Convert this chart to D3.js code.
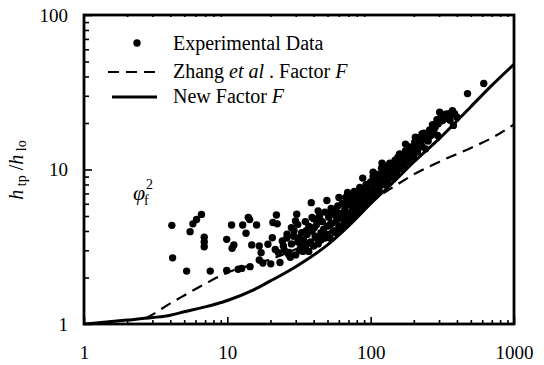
<!DOCTYPE html>
<html>
<head>
<meta charset="utf-8">
<script src="https://cdn.jsdelivr.net/npm/d3@7"></script>
<style>
  body { margin: 0; background: #fff; }
  svg { display: block; }
  svg text { font-family: "Liberation Serif", "DejaVu Serif", serif !important; fill: #000; }
</style>
</head>
<body>
<svg id="chart" width="544" height="365"></svg>
<script>
// Axis ticks
const xTickLabels = [1, 10, 100, 1000];
const yTickLabels = [1, 10, 100];
const xMinorTicks = [2, 3, 4, 5, 6, 7, 8, 9, 20, 30, 40, 50, 60, 70, 80, 90, 200, 300, 400, 500, 600, 700, 800, 900];
const yMinorTicks = [2, 3, 4, 5, 6, 7, 8, 9, 20, 30, 40, 50, 60, 70, 80, 90];

// New correlation for the enhancement factor F
const newFactorX = [1, 2, 3, 4, 5, 7, 10, 15, 20, 30, 50, 70, 100, 150, 200, 300, 500, 700, 1000];
const newFactorY = [1.0, 1.06, 1.1, 1.14, 1.2, 1.29, 1.42, 1.65, 1.9, 2.35, 3.25, 4.3, 6.0, 8.6, 11.2, 15.8, 25.5, 35, 48];

// Zhang et al. factor F
const zhangX = [2.7, 3, 4, 5, 7, 10, 15, 20, 30, 50, 70, 100, 150, 200, 300, 500, 700, 1000];
const zhangY = [1.09, 1.15, 1.36, 1.53, 1.82, 2.15, 2.42, 2.62, 3.05, 3.9, 4.8, 6.2, 7.9, 9.3, 11.2, 13.8, 16.0, 19.6];

// Measured two-phase multipliers
const experimental = [
  [4.1, 4.35], [4.15, 2.68], [5.2, 2.2], [5.5, 3.96], [5.75, 4.45], [6.1, 4.75], [6.6, 5.12],
  [6.9, 3.64], [6.9, 3.4], [6.9, 3.16], [7.6, 2.2], [9.9, 3.53], [9.9, 2.22], [10.7, 4.37],
  [10.8, 3.09], [11.1, 3.25], [11.9, 2.26], [12.6, 2.29], [12.8, 4.37], [14.0, 4.9], [14.3, 4.74],
  [13.5, 3.87], [14.4, 2.35], [14.8, 3.25], [16.0, 4.37], [16.7, 2.6], [16.7, 3.2], [17.2, 2.89],
  [17.7, 2.48], [19.2, 3.28], [20.1, 2.45], [20.6, 3.62], [20.8, 4.54], [22.0, 5.08], [22.3, 4.45],
  [22.7, 2.89], [21.6, 3.04], [23.3, 2.5], [24.2, 3.45], [24.6, 3.2], [26.1, 3.81], [26.8, 2.82],
  [27.5, 2.7], [29.2, 4.0], [29.9, 4.65], [30.5, 5.14], [31.7, 3.62], [32.6, 3.2], [33.6, 2.95],
  [35.4, 4.0], [36.3, 3.31], [38.5, 6.1], [39.0, 4.89], [40.5, 4.21], [41.9, 3.62], [43.0, 5.4],
  [44.2, 4.65], [46.9, 3.81], [49.5, 6.3], [50.9, 5.14], [52.4, 4.42], [55.3, 4.0], [56.9, 5.53],
  [60.1, 6.6], [61.8, 4.89], [65.4, 5.97], [67.4, 5.14], [69.1, 7.11], [71.2, 6.27], [75.2, 5.68],
  [79.8, 6.59], [84, 7.65], [88, 8.8], [88.9, 6.59], [94, 7.85], [99.5, 6.93], [104, 9.59],
  [108, 8.26], [114, 7.28], [120, 11.0], [124, 8.9], [130, 8.26], [139, 9.82], [143, 9.12],
  [155, 10.3], [159, 12.6], [169, 11.4], [172, 10.3], [175, 14.6], [193, 12], [205, 16.2],
  [211, 13.9], [222, 15.4], [228, 17], [242, 13.6], [248, 15.4], [263, 16.6], [278, 18.8],
  [293, 16.6], [311, 22.4], [319, 20.8], [338, 21.8], [358, 20.8], [378, 19.3], [400, 21.8],
  [474, 31], [615, 36],
  [25, 3.0], [26, 3.6], [27, 2.9], [28, 3.3], [28, 4.2], [29, 3.7], [30, 2.8], [31, 3.4], [31, 4.4],
  [32, 3.0], [33, 3.9], [34, 3.5], [35, 4.6], [35, 3.1], [36, 3.8], [37, 4.3], [37, 2.95],
  [38, 3.4], [39, 4.0], [40, 3.2], [40, 4.8], [41, 3.7], [42, 4.4], [43, 3.3], [44, 5.0], [45, 3.9],
  [45, 3.5], [46, 4.6], [47, 4.1], [48, 3.6], [48, 5.3], [50, 4.3], [50, 3.8], [51, 4.9], [52, 3.6],
  [53, 5.6], [54, 4.5], [55, 4.0], [56, 5.1], [57, 3.9], [58, 4.7], [59, 5.8], [60, 4.3], [61, 5.2],
  [62, 4.1], [63, 6.0], [64, 4.8], [65, 4.4], [66, 5.5], [67, 6.6], [68, 4.7], [69, 5.1], [70, 5.9],
  [71, 4.6], [72, 6.8], [73, 5.3], [74, 4.9], [75, 6.2], [76, 5.6], [77, 7.2], [78, 5.1], [79, 6.0],
  [80, 5.4], [82, 6.6], [83, 5.8], [84, 7.0], [85, 5.5], [86, 6.3], [88, 7.5], [89, 6.0], [90, 5.8],
  [92, 6.9], [93, 8.0], [94, 6.4], [95, 6.1], [97, 7.4], [98, 6.6], [100, 8.3], [101, 6.6],
  [102, 7.1], [104, 9.0], [105, 7.6], [106, 6.9], [108, 8.0], [110, 7.3], [111, 9.3], [112, 8.5],
  [114, 7.6], [116, 8.9], [117, 7.9], [119, 10.2], [120, 8.3], [122, 9.6], [124, 8.0], [126, 8.8],
  [128, 10.5], [130, 9.1], [132, 8.5], [134, 9.8], [136, 11.0], [138, 9.3], [140, 8.9], [143, 10.6],
  [145, 9.6], [148, 11.5], [150, 10.0], [152, 9.4], [155, 12.0], [157, 10.6], [160, 11.1],
  [163, 10.1], [166, 12.5], [168, 11.6], [171, 10.7], [175, 13.2], [178, 11.9], [181, 12.6],
  [185, 11.3], [188, 14.0], [192, 12.8], [195, 13.5], [200, 12.3], [203, 15.0], [207, 13.9],
  [212, 13.0], [216, 16.0], [220, 14.5], [225, 15.3], [230, 14.0], [235, 17.2], [240, 15.6],
  [246, 16.4], [252, 15.3], [258, 18.0], [264, 17.0], [270, 19.5], [276, 17.8], [283, 18.9],
  [290, 21.0], [296, 19.8], [303, 23.5], [310, 20.6], [318, 22.0], [325, 21.3], [333, 22.8],
  [342, 21.6], [350, 23.0], [360, 22.3], [372, 24.0], [385, 23.0]
];

const svg = d3.select("#chart");
const margin = { left: 84, right: 30, top: 15, bottom: 41 };
const W = 544, H = 365;
const x = d3.scaleLog().domain([1, 1000]).range([margin.left, W - margin.right]);
const y = d3.scaleLog().domain([1, 100]).range([H - margin.bottom, margin.top]);

const fmt = d => String(d);

// Bottom axis: labelled major ticks and inward minor ticks
const gx = svg.append("g").attr("transform", `translate(0,${y(1)})`);
gx.call(d3.axisBottom(x).tickValues(xTickLabels).tickFormat(fmt).tickSizeInner(-7).tickSizeOuter(0).tickPadding(22));
gx.append("g").call(d3.axisBottom(x).tickValues(xMinorTicks).tickFormat("").tickSizeInner(-4).tickSizeOuter(0));

// Left axis
const gy = svg.append("g").attr("transform", `translate(${x(1)},0)`);
gy.call(d3.axisLeft(y).tickValues(yTickLabels).tickFormat(fmt).tickSizeInner(-8).tickSizeOuter(0).tickPadding(16));
gy.append("g").call(d3.axisLeft(y).tickValues(yMinorTicks).tickFormat("").tickSizeInner(-5).tickSizeOuter(0));

// Short mirrored ticks along the top edge
svg.append("g").attr("transform", `translate(0,${y(100)})`)
  .call(d3.axisTop(x).tickValues(xMinorTicks).tickFormat("").tickSizeInner(-2).tickSizeOuter(0));

svg.selectAll(".domain").remove();
svg.selectAll("g").attr("font-family", null);
svg.selectAll(".tick line").attr("stroke", "#000").attr("stroke-width", 1.6);
svg.selectAll(".tick text").style("font-size", "19px").attr("fill", "#000");

// Plot frame
svg.append("rect")
  .attr("x", x(1)).attr("y", y(100))
  .attr("width", x(1000) - x(1)).attr("height", y(1) - y(100))
  .attr("fill", "none").attr("stroke", "#000").attr("stroke-width", 2.8);

svg.append("clipPath").attr("id", "plotClip").append("rect")
  .attr("x", x(1)).attr("y", y(100)).attr("width", x(1000) - x(1)).attr("height", y(1) - y(100));

const line = d3.line().x(d => x(d[0])).y(d => y(d[1])).curve(d3.curveMonotoneX);

const plot = svg.append("g").attr("clip-path", "url(#plotClip)");

// Experimental points
plot.selectAll("circle.exp").data(experimental).enter().append("circle")
  .attr("class", "exp")
  .attr("cx", d => x(d[0])).attr("cy", d => y(d[1])).attr("r", 3.7).attr("fill", "#000");

// Zhang et al. (dashed)
plot.append("path")
  .datum(zhangX.map((v, i) => [v, zhangY[i]]))
  .attr("d", line).attr("fill", "none").attr("stroke", "#000")
  .attr("stroke-width", 2.2).attr("stroke-dasharray", "11,7");

// New factor (solid)
plot.append("path")
  .datum(newFactorX.map((v, i) => [v, newFactorY[i]]))
  .attr("d", line).attr("fill", "none").attr("stroke", "#000").attr("stroke-width", 3);

// Legend
const lg = svg.append("g").style("font-size", "20px");
lg.append("circle").attr("cx", 137).attr("cy", 43).attr("r", 3.7).attr("fill", "#000");
lg.append("text").attr("x", 173).attr("y", 50).text("Experimental Data");

lg.append("line").attr("x1", 108).attr("x2", 157).attr("y1", 72).attr("y2", 72)
  .attr("stroke", "#000").attr("stroke-width", 2.2).attr("stroke-dasharray", "11,7");
const t2 = lg.append("text").attr("x", 173).attr("y", 78);
t2.append("tspan").text("Zhang ");
t2.append("tspan").style("font-style", "italic").text("et al");
t2.append("tspan").text(" . Factor ");
t2.append("tspan").style("font-style", "italic").text("F");

lg.append("line").attr("x1", 112).attr("x2", 157).attr("y1", 97).attr("y2", 97)
  .attr("stroke", "#000").attr("stroke-width", 2.8);
const t3 = lg.append("text").attr("x", 173).attr("y", 103);
t3.append("tspan").text("New Factor ");
t3.append("tspan").style("font-style", "italic").text("F");

// Y axis title: h_tp / h_lo
const yt = svg.append("text")
  .attr("transform", "translate(23,170) rotate(-90)")
  .attr("text-anchor", "middle").style("font-size", "20px");
yt.append("tspan").style("font-style", "italic").text("h");
yt.append("tspan").style("font-size", "14px").attr("dy", 3).text(" tp");
yt.append("tspan").attr("dy", -3).text(" /");
yt.append("tspan").style("font-style", "italic").text("h");
yt.append("tspan").style("font-size", "14px").attr("dy", 3).text(" lo");

// phi_f^2 annotation
svg.append("text").attr("x", 133).attr("y", 200).style("font-size", "22px").style("font-style", "italic").text("φ");
svg.append("text").attr("x", 144).attr("y", 205).style("font-size", "14px").text("f");
svg.append("text").attr("x", 146).attr("y", 189).style("font-size", "14px").text("2");
</script>
</body>
</html>
